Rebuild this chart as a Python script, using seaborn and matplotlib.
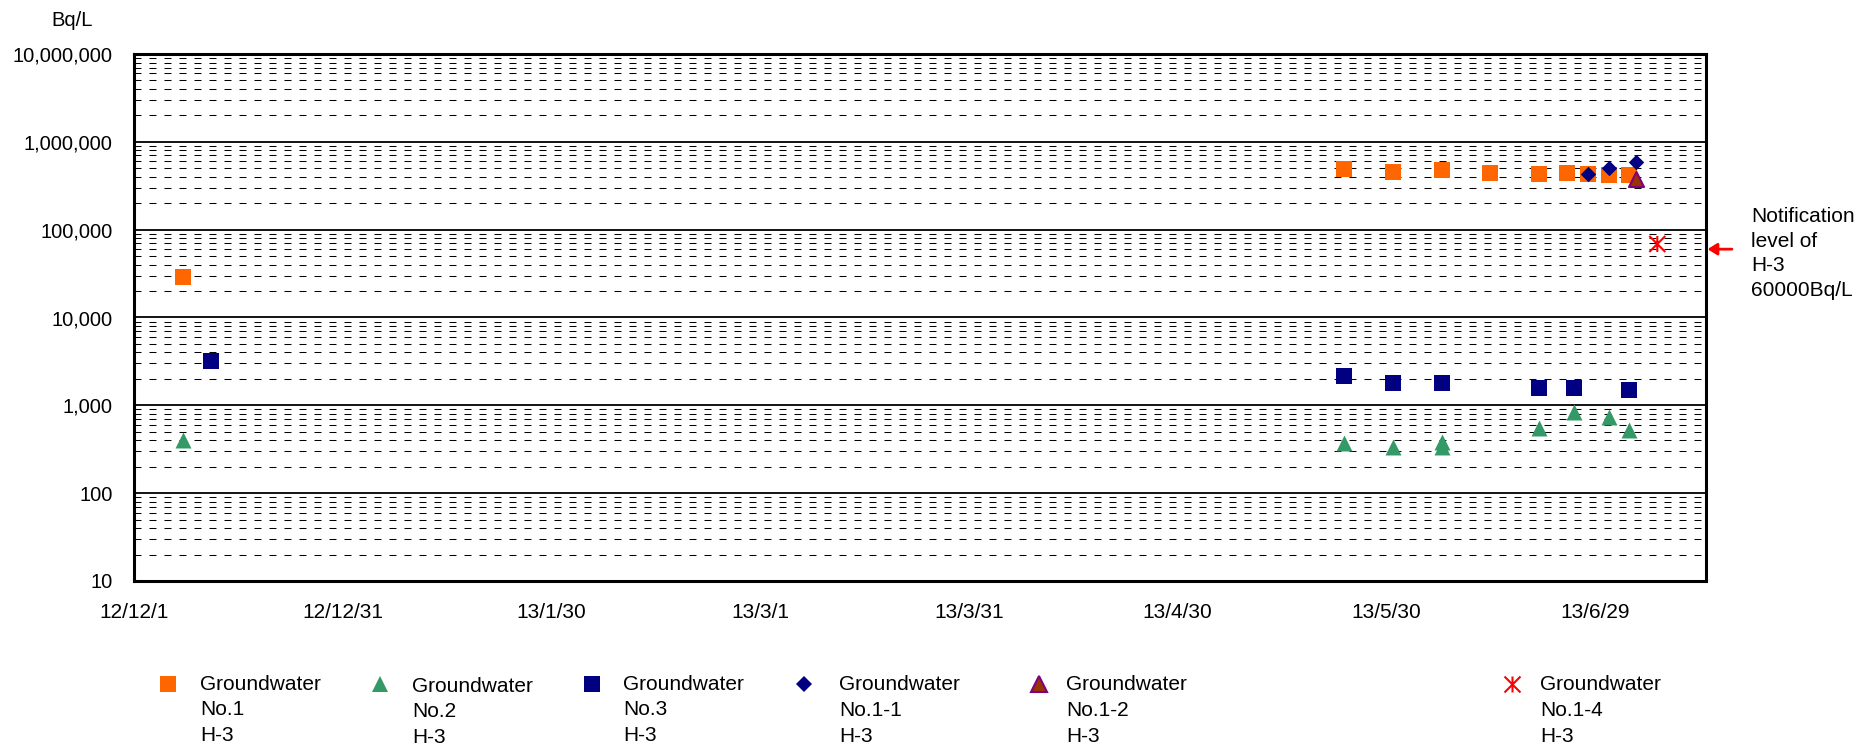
import matplotlib
matplotlib.use("Agg")
import matplotlib.pyplot as plt
import matplotlib.ticker as mticker
from matplotlib.path import Path
from matplotlib.lines import Line2D
import numpy as np
import pandas as pd
import seaborn as sns

# --- values (H-3, Bq/L) ---
no1_dates = ["2012-12-08", "2013-05-24", "2013-05-31", "2013-06-07", "2013-06-14",
             "2013-06-21", "2013-06-25", "2013-06-28", "2013-07-01", "2013-07-04"]
no1_vals = [28700, 494000, 457000, 482000, 445000, 427000, 445000, 427000, 419000, 422000]

no2_dates = ["2012-12-08", "2013-05-24", "2013-05-31", "2013-06-07", "2013-06-07",
             "2013-06-21", "2013-06-26", "2013-07-01", "2013-07-04"]
no2_vals = [406, 372, 335, 385, 333, 552, 832, 730, 519]

no3_dates = ["2012-12-12", "2013-05-24", "2013-05-31", "2013-06-07", "2013-06-21",
             "2013-06-26", "2013-07-04"]
no3_vals = [3170, 2175, 1782, 1782, 1589, 1589, 1494]

no1_1_dates = ["2013-06-28", "2013-07-01", "2013-07-05"]
no1_1_vals = [427000, 503000, 594000]

no1_2_dates = ["2013-07-05"]
no1_2_vals = [374000]

no1_4_dates = ["2013-07-08"]
no1_4_vals = [68700]

notification_level = 60000
x_start, x_end = "2012-12-01", "2013-07-15"
tick_step_days = 30
n_ticks = 8

series_labels = ["Groundwater\nNo.1\nH-3", "Groundwater\nNo.2\nH-3", "Groundwater\nNo.3\nH-3",
                 "Groundwater\nNo.1-1\nH-3", "Groundwater\nNo.1-2\nH-3", "Groundwater\nNo.1-4\nH-3"]

# --- style ---
sns.set_style("white")
plt.rcParams["font.family"] = ["Liberation Sans", "DejaVu Sans"]
plt.rcParams.update({"text.color": "black", "xtick.color": "black",
                     "ytick.color": "black", "axes.labelcolor": "black"})
FS = 15

# excel style "star" marker: an X with a vertical bar
star = Path([(-1, -1), (1, 1), (-1, 1), (1, -1), (0, -1), (0, 1)],
            [Path.MOVETO, Path.LINETO, Path.MOVETO, Path.LINETO, Path.MOVETO, Path.LINETO])

styles = [
    dict(marker="s", s=132, color="#FF6600", linewidth=0),
    dict(marker="^", s=132, color="#339966", linewidth=0),
    dict(marker="s", s=132, color="#000080", linewidth=0),
    dict(marker="D", s=62, color="#000080", linewidth=0),
    dict(marker="^", s=117, color="#993300", edgecolor="#800080", linewidth=1.5),
    dict(marker=star, s=132, color="#FF0000", facecolor="none", edgecolor="#FF0000", linewidth=1.5),
]
all_dates = [no1_dates, no2_dates, no3_dates, no1_1_dates, no1_2_dates, no1_4_dates]
all_vals = [no1_vals, no2_vals, no3_vals, no1_1_vals, no1_2_vals, no1_4_vals]

W, H = 1876, 746
fig = plt.figure(figsize=(W / 100, H / 100), dpi=100)
ax = fig.add_axes([134 / W, 1 - 581 / H, (1706 - 134) / W, (581 - 54) / H])

for dates, vals, st in zip(all_dates, all_vals, styles):
    df = pd.DataFrame({"date": pd.to_datetime(dates), "bq": vals})
    sns.scatterplot(data=df, x="date", y="bq", ax=ax, legend=False, **st)

# --- axes ---
ax.set_yscale("log")
ax.set_ylim(10, 1e7)
ax.yaxis.set_major_locator(mticker.LogLocator(base=10, numticks=10))
ax.yaxis.set_minor_locator(mticker.LogLocator(base=10, subs=np.arange(2, 10), numticks=20))
ax.yaxis.set_major_formatter(mticker.FuncFormatter(lambda v, p: f"{v:,.0f}"))
ax.yaxis.set_minor_formatter(mticker.NullFormatter())

ticks = pd.date_range(x_start, periods=n_ticks, freq=f"{tick_step_days}D")
ax.set_xlim(pd.Timestamp(x_start), pd.Timestamp(x_end))
ax.set_xticks(ticks)
ax.set_xticklabels([f"{d.year % 100}/{d.month}/{d.day}" for d in ticks])
ax.set_xlabel("")
ax.set_ylabel("")

ax.tick_params(axis="y", which="both", length=0, pad=15.5, labelsize=14.5)
ax.tick_params(axis="x", which="major", direction="in", length=5, width=0.8,
               pad=16, labelsize=FS, top=False)

ax.set_axisbelow(True)
ax.grid(which="major", axis="y", color="black", linewidth=1.3, linestyle="-")
ax.grid(which="minor", axis="y", color="black", linewidth=0.75, linestyle=(0, (6.7, 7.7)))
for sp in ax.spines.values():
    sp.set_visible(True)
    sp.set_color("black")
    sp.set_linewidth(2.2)

# unit label
fig.text(72 / W, 1 - 26 / H, "Bq/L", ha="center", va="baseline", fontsize=14.5)

# notification level arrow and note
ax.annotate("", xy=(1.001, notification_level), xycoords=("axes fraction", "data"),
            xytext=(1.0165, notification_level), textcoords=("axes fraction", "data"),
            arrowprops=dict(arrowstyle="-|>,head_length=0.4,head_width=0.25", color="red",
                            lw=2, mutation_scale=14, shrinkA=0, shrinkB=0),
            annotation_clip=False)
# va="baseline" on multi-line text sits on the last line's baseline
fig.text(1751 / W, 1 - 296 / H, "Notification\nlevel of\nH-3\n60000Bq/L",
         ha="left", va="baseline", fontsize=FS, linespacing=1.38)

# --- legend row under the chart ---
leg_marker_x = [168, 380, 592, 804, 1039, 1512]
leg_text_x = [200, 412, 623, 839, 1066, 1540]
leg_text_base = [741, 743, 741, 742, 742, 742]
leg_marker_y = 684
for st, label, mx, tx, tb in zip(styles, series_labels, leg_marker_x, leg_text_x, leg_text_base):
    ms = np.sqrt(st["s"])
    fc = st.get("facecolor", st["color"])
    ec = st.get("edgecolor", st["color"])
    fig.add_artist(Line2D([mx / W], [1 - leg_marker_y / H], transform=fig.transFigure,
                          marker=st["marker"], markersize=ms, linestyle="none",
                          markerfacecolor=fc, markeredgecolor=ec,
                          markeredgewidth=st["linewidth"]))
    fig.text(tx / W, 1 - tb / H, label, ha="left", va="baseline", fontsize=FS, linespacing=1.45)

fig.savefig("out.png", dpi=100)
